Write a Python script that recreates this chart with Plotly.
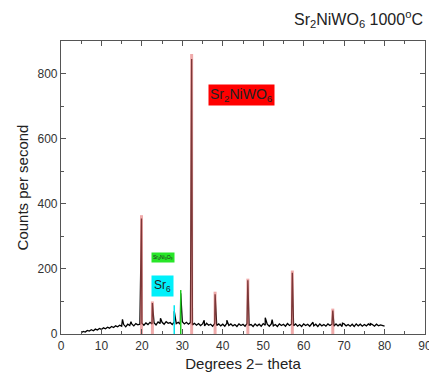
import plotly.graph_objects as go

# Background (0.5 deg steps from 5 to 80)
bg_theta = [5.0, 5.5, 6.0, 6.5, 7.0, 7.5, 8.0, 8.5, 9.0, 9.5,
            10.0, 10.5, 11.0, 11.5, 12.0, 12.5, 13.0, 13.5, 14.0, 14.5,
            15.0, 15.5, 16.0, 16.5, 17.0, 17.5, 18.0, 18.5, 19.0, 19.5,
            20.0, 20.5, 21.0, 21.5, 22.0, 22.5, 23.0, 23.5, 24.0, 24.5,
            25.0, 25.5, 26.0, 26.5, 27.0, 27.5, 28.0, 28.5, 29.0, 29.5,
            30.0, 30.5, 31.0, 31.5, 32.0, 32.5, 33.0, 33.5, 34.0, 34.5,
            35.0, 35.5, 36.0, 36.5, 37.0, 37.5, 38.0, 38.5, 39.0, 39.5,
            40.0, 40.5, 41.0, 41.5, 42.0, 42.5, 43.0, 43.5, 44.0, 44.5,
            45.0, 45.5, 46.0, 46.5, 47.0, 47.5, 48.0, 48.5, 49.0, 49.5,
            50.0, 50.5, 51.0, 51.5, 52.0, 52.5, 53.0, 53.5, 54.0, 54.5,
            55.0, 55.5, 56.0, 56.5, 57.0, 57.5, 58.0, 58.5, 59.0, 59.5,
            60.0, 60.5, 61.0, 61.5, 62.0, 62.5, 63.0, 63.5, 64.0, 64.5,
            65.0, 65.5, 66.0, 66.5, 67.0, 67.5, 68.0, 68.5, 69.0, 69.5,
            70.0, 70.5, 71.0, 71.5, 72.0, 72.5, 73.0, 73.5, 74.0, 74.5,
            75.0, 75.5, 76.0, 76.5, 77.0, 77.5, 78.0, 78.5, 79.0, 79.5, 80.0]
bg_counts = [4, 8, 6, 11, 9, 13, 10, 15, 12, 17,
             14, 19, 16, 21, 18, 23, 20, 25, 22, 27,
             24, 29, 22, 30, 26, 31, 25, 32, 28, 30,
             33, 27, 34, 29, 36, 31, 35, 28, 37, 32,
             36, 30, 38, 33, 35, 29, 37, 32, 36, 30,
             38, 31, 36, 30, 35, 28, 33, 27, 32, 26,
             31, 25, 33, 27, 30, 24, 32, 26, 31, 25,
             30, 24, 33, 26, 31, 25, 29, 23, 31, 26,
             30, 24, 32, 27, 29, 23, 31, 25, 30, 24,
             32, 27, 30, 24, 31, 25, 29, 23, 31, 26,
             30, 24, 32, 26, 30, 25, 31, 24, 29, 23,
             31, 26, 30, 24, 32, 25, 30, 23, 31, 25,
             29, 24, 31, 26, 30, 24, 31, 25, 30, 23,
             31, 25, 29, 24, 30, 23, 31, 25, 30, 24,
             29, 25, 31, 26, 29, 24, 30, 25, 28, 26, 24]

# Measured peaks (black trace)
peak_theta = [15.2, 17.3, 19.9, 22.6, 24.6, 28.0, 29.6, 32.3, 35.4, 38.1,
              41.0, 46.2, 50.5, 52.2, 57.2, 62.3, 67.2, 69.6, 76.5]
peak_counts = [45, 38, 355, 95, 48, 70, 125, 845, 42, 122,
               42, 165, 50, 44, 188, 36, 72, 33, 32]

# Reference sticks
ref_theta = [19.9, 22.6, 32.3, 38.1, 46.2, 57.2, 67.2]
ref_counts = [365, 100, 860, 130, 170, 195, 78]
green_theta = [29.6]
green_counts = [135]
cyan_theta = [28.0]
cyan_counts = [88]

# merge background and peaks
pts = sorted(list(zip(bg_theta, bg_counts)) + list(zip(peak_theta, peak_counts)))
x_all = [p[0] for p in pts]
y_all = [p[1] for p in pts]

def sticks(xs, ys):
    sx, sy = [], []
    for x, y in zip(xs, ys):
        sx += [x, x, None]
        sy += [0, y, None]
    return sx, sy

fig = go.Figure()
fig.add_trace(go.Scatter(x=x_all, y=y_all, mode="lines",
                         line=dict(color="black", width=1.3)))
sx, sy = sticks(ref_theta, ref_counts)
fig.add_trace(go.Scatter(x=sx, y=sy, mode="lines",
                         line=dict(color="rgba(225,100,100,0.55)", width=3),
                         hoverinfo="skip"))
sx, sy = sticks(cyan_theta, cyan_counts)
fig.add_trace(go.Scatter(x=sx, y=sy, mode="lines",
                         line=dict(color="rgb(0,230,240)", width=1.5)))
sx, sy = sticks(green_theta, green_counts)
fig.add_trace(go.Scatter(x=sx, y=sy, mode="lines",
                         line=dict(color="rgb(30,200,30)", width=1.5)))

fnt = "Liberation Sans, Arial, sans-serif"
axis_common = dict(showline=True, linecolor="#555", linewidth=1.2, mirror="ticks",
                   ticks="inside", ticklen=5, tickcolor="#555", showgrid=False,
                   zeroline=False, automargin=False,
                   tickfont=dict(family=fnt, size=12, color="#333"))
fig.update_xaxes(range=[0, 90], tickvals=[0, 10, 20, 30, 40, 50, 60, 70, 80, 90],
                 minor=dict(dtick=5, tick0=0, ticks="inside", ticklen=3, tickcolor="#555"),
                 title=dict(text="Degrees 2\u2212 theta", font=dict(family=fnt, size=15, color="#222"), standoff=6),
                 **axis_common)
fig.update_yaxes(range=[0, 900], tickvals=[0, 200, 400, 600, 800],
                 minor=dict(dtick=100, tick0=0, ticks="inside", ticklen=3, tickcolor="#555"),
                 title=dict(text="Counts per second", font=dict(family=fnt, size=15, color="#222"), standoff=5),
                 **axis_common)

fig.add_annotation(x=1.0, y=1.0, xref="paper", yref="paper", xanchor="right", yanchor="bottom",
                   yshift=9, showarrow=False,
                   text="Sr<sub>2</sub>NiWO<sub>6</sub> 1000<sup>o</sup>C",
                   font=dict(family=fnt, size=16, color="#222"))
fig.add_annotation(x=44.7, y=733, showarrow=False, text="Sr<sub>2</sub>NiWO<sub>6</sub>",
                   bgcolor="rgb(255,0,0)", font=dict(family=fnt, size=14, color="#222"), borderpad=1)
fig.add_annotation(x=25.3, y=236, showarrow=False, text="Sr<sub>4</sub>Ni<sub>3</sub>O<sub>9</sub>",
                   bgcolor="rgb(40,230,40)", font=dict(family=fnt, size=5, color="#222"), borderpad=1)
fig.add_annotation(x=25.2, y=147, showarrow=False, text="Sr<sub>6</sub>",
                   bgcolor="rgb(0,240,250)", font=dict(family=fnt, size=12, color="#222"), borderpad=2)

# page has an 8px body margin, so the figure is shifted; compensate
fig.update_layout(width=429, height=371, showlegend=False,
                  margin=dict(l=53, r=12, t=33, b=45),
                  plot_bgcolor="white", paper_bgcolor="white")
fig.write_html("out.html")
